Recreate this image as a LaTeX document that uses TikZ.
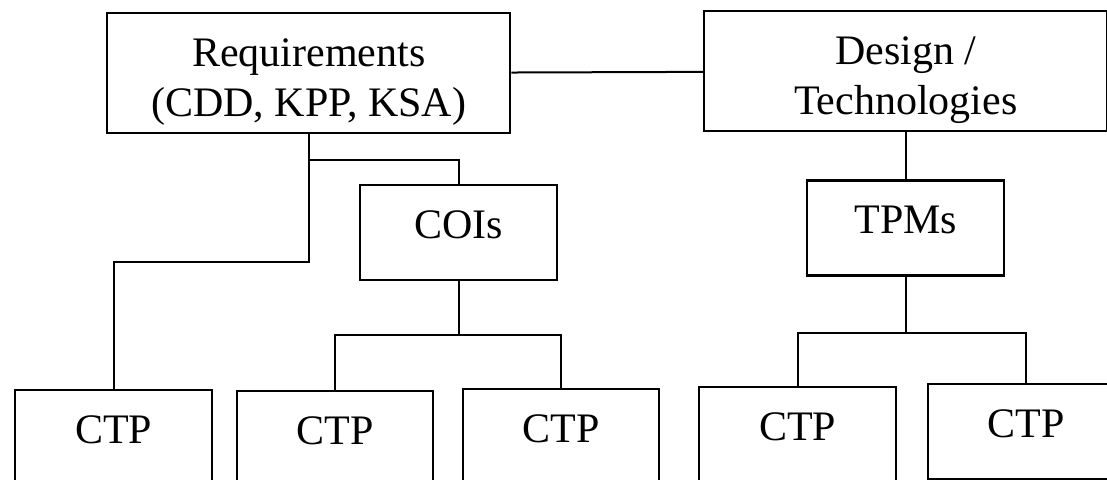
\documentclass[tikz,border=0pt]{standalone}
\usepackage{fontspec}
\setmainfont{Liberation Serif}
\usetikzlibrary{positioning}

\begin{document}
\begin{tikzpicture}[
  x=1pt, y=-1pt,
  box/.style={draw, line width=2.4pt, anchor=north west, inner sep=0pt, align=center,
    font=\fontsize{42}{50}\selectfont, text height=53pt},
  wide/.style={box, minimum width=403pt, minimum height=120pt, text height=103pt, text depth=17pt},
  small/.style={box, minimum width=197pt, minimum height=95pt, text depth=42pt},
  link/.style={line width=2pt}
]
\useasboundingbox (0,0) rectangle (1107,479);
\clip (0,0) rectangle (1107,479);
\node[wide] (req) at (106,12) {Requirements\\(CDD, KPP, KSA)};
\node[wide] (des) at (703,10) {Design /\\Technologies};
\node[small] (cois) at (359,184) {COIs};
\node[small, below=47pt of des] (tpms) {TPMs};
\node[small] (ctp1) at (14,389) {CTP};
\node[small, minimum width=196pt] (ctp2) at (236,390) {CTP};
\node[small, minimum width=196pt] (ctp3) at (462,388) {CTP};
\node[small] (ctp4) at (698,386) {CTP};
\node[small, minimum width=196pt] (ctp5) at (927,383) {CTP};
\draw[link] (req) -- (des);
\draw[link] (req.south) -- ++(0,128) -| (ctp1.north);
\draw[link] (req.south) ++(0,26) -| (cois.north);
\draw[link] (cois.south) -- ++(0,54) -| (ctp2.north);
\draw[link] (cois.south) ++(0,54) -| (ctp3.north);
\draw[link] (des) -- (tpms);
\draw[link] (tpms.south) -- ++(0,56) -| (ctp4.north);
\draw[link] (tpms.south) ++(0,56) -| (ctp5.north);
\end{tikzpicture}
\end{document}
